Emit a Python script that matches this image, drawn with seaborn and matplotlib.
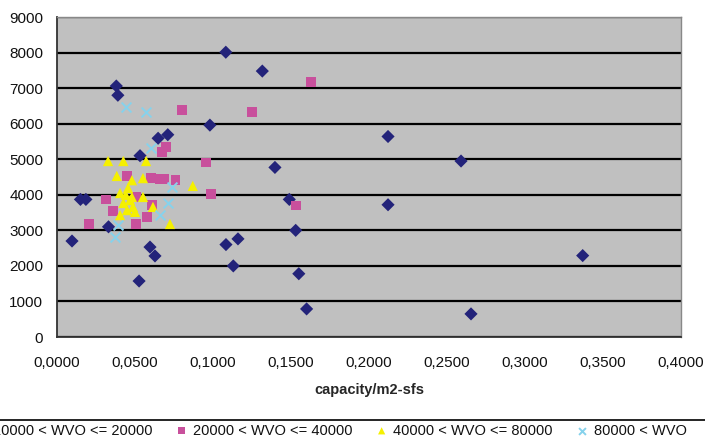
import matplotlib
matplotlib.use("Agg")
import matplotlib.pyplot as plt
import pandas as pd
import seaborn as sns
from matplotlib.lines import Line2D
from matplotlib.ticker import FuncFormatter, MultipleLocator

GROUPS = ["10000 < WVO <= 20000", "20000 < WVO <= 40000",
          "40000 < WVO <= 80000", "80000 < WVO"]

wvo1_x = [0.0096, 0.0150, 0.0185, 0.0330, 0.0380, 0.0390, 0.0532, 0.0526,
          0.0596, 0.0628, 0.0648, 0.0710, 0.0980, 0.1082, 0.1316, 0.1397,
          0.1489, 0.1083, 0.1160, 0.1130, 0.1530, 0.1550, 0.1600, 0.2122,
          0.2590, 0.2122, 0.3370, 0.2654]
wvo1_y = [2700, 3870, 3870, 3100, 7060, 6800, 5100, 1575,
          2530, 2280, 5590, 5690, 5960, 8010, 7480, 4770,
          3870, 2600, 2760, 2000, 3000, 1780, 790, 5640,
          4950, 3720, 2290, 650]

wvo2_x = [0.1630, 0.1250, 0.0803, 0.0697, 0.0674, 0.0955, 0.0600, 0.0630,
          0.0660, 0.0685, 0.0760, 0.0987, 0.1530, 0.0314, 0.0360, 0.0205,
          0.0506, 0.0577, 0.0610, 0.0506, 0.0449]
wvo2_y = [7170, 6330, 6380, 5350, 5210, 4910, 4470, 4460,
          4450, 4440, 4410, 4020, 3700, 3870, 3550, 3180,
          3180, 3380, 3710, 3940, 4530]

wvo3_x = [0.0327, 0.0425, 0.0571, 0.0383, 0.0480, 0.0551, 0.0455, 0.0870,
          0.0404, 0.0480, 0.0551, 0.0425, 0.0487, 0.0449, 0.0615, 0.0404,
          0.0500, 0.0724, 0.0468, 0.0440]
wvo3_y = [4950, 4950, 4950, 4530, 4410, 4470, 4190, 4250,
          4050, 3940, 3940, 3770, 3660, 3570, 3660, 3430,
          3520, 3180, 3850, 4000]

wvo4_x = [0.0442, 0.0570, 0.0603, 0.0712, 0.0737, 0.0372, 0.0660, 0.0390]
wvo4_y = [6470, 6330, 5330, 3770, 4220, 2810, 3430, 3150]

COLORS = ["#23237a", "#c8509c", "#f5f000", "#86d2ec"]
MARKERS = ["D", "s", "^", "x"]
SIZES = [45, 50, 55, 50]


def build_frame() -> pd.DataFrame:
    parts = []
    for name, xs, ys in zip(GROUPS, [wvo1_x, wvo2_x, wvo3_x, wvo4_x],
                            [wvo1_y, wvo2_y, wvo3_y, wvo4_y]):
        parts.append(pd.DataFrame({"capacity": xs, "value": ys, "group": name}))
    return pd.concat(parts, ignore_index=True)


def main() -> None:
    sns.set_style("white")
    plt.rcParams["font.family"] = ["Liberation Sans", "DejaVu Sans"]

    df = build_frame()
    fig = plt.figure(figsize=(7.05, 4.41), dpi=100)
    ax = fig.add_axes([0.0809, 0.2358, 0.885, 0.7256])
    ax.set_facecolor("#c0c0c0")

    for name, color, marker, size in zip(GROUPS, COLORS, MARKERS, SIZES):
        sub = df[df["group"] == name]
        if marker == "x":
            kw = dict(linewidth=1.4)
        else:
            kw = dict(edgecolor="none")
        sns.scatterplot(data=sub, x="capacity", y="value", ax=ax, color=color,
                        marker=marker, s=size, label=name, zorder=3, **kw)

    ax.set_xlim(0, 0.4)
    ax.set_ylim(0, 9000)
    ax.xaxis.set_major_locator(MultipleLocator(0.05))
    ax.yaxis.set_major_locator(MultipleLocator(1000))
    ax.xaxis.set_major_formatter(FuncFormatter(lambda v, p: f"{v:.4f}".replace(".", ",")))
    ax.yaxis.grid(True, color="black", linewidth=1.6, zorder=1)
    ax.set_axisbelow(True)
    ax.tick_params(axis="both", direction="out", length=6, width=1,
                   color="#333333", labelsize=11, pad=4, labelcolor="#111111")
    ax.tick_params(axis="x", pad=8)
    for side in ["top", "right"]:
        ax.spines[side].set_color("#888888")
        ax.spines[side].set_linewidth(1)
    for side in ["left", "bottom"]:
        ax.spines[side].set_color("#333333")
        ax.spines[side].set_linewidth(1.3)

    ax.set_xlabel("capacity/m2-sfs", fontsize=10.5, fontweight="bold", labelpad=9)
    ax.set_ylabel("")

    # legend box runs past both edges of the picture; only its top rule shows
    ax.legend_.remove()
    handles, labels = ax.get_legend_handles_labels()
    fig.legend(handles, labels, loc="upper left", ncol=4,
               bbox_to_anchor=(-0.0425, 0.0476), borderaxespad=0,
               fontsize=10.5, frameon=False, handlelength=1.0,
               handletextpad=0.3, columnspacing=1.5, markerscale=0.7,
               borderpad=0.25, labelcolor="#111111")
    fig.add_artist(Line2D([0, 1], [0.0476, 0.0476], transform=fig.transFigure,
                          color="black", linewidth=1.2))

    fig.savefig("out.png", dpi=100)


if __name__ == "__main__":
    main()
